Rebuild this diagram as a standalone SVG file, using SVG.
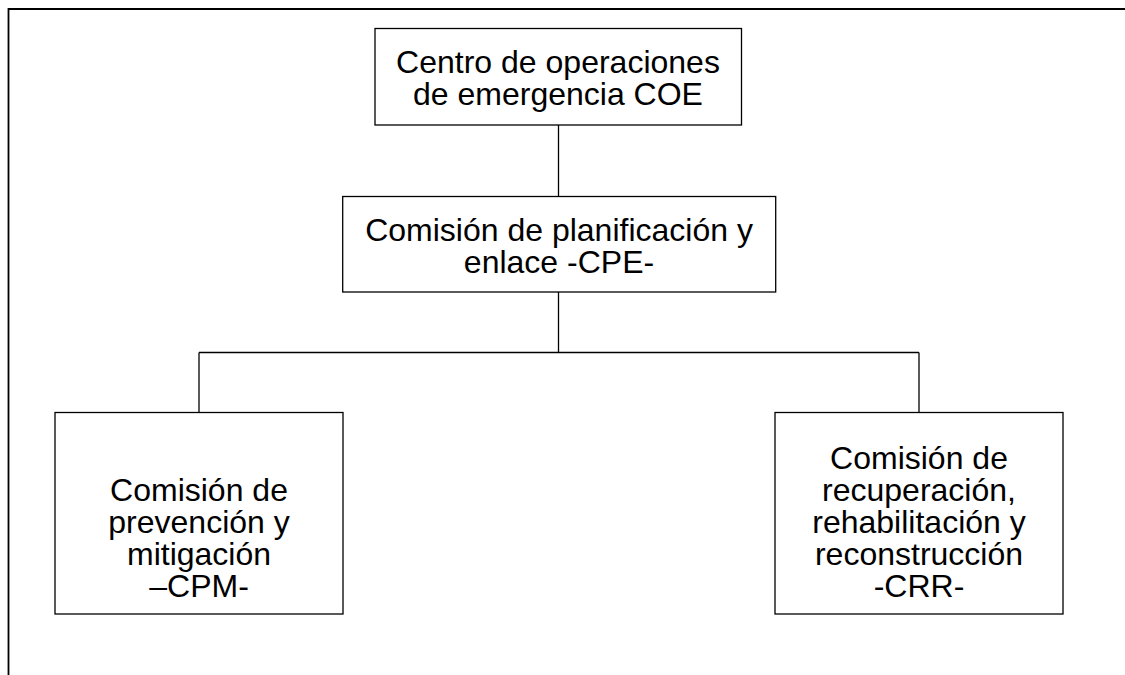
<svg xmlns="http://www.w3.org/2000/svg" width="1125" height="675" viewBox="0 0 1125 675">
<style>
  .box { fill: #ffffff; stroke: #000000; stroke-width: 1.3; }
  .conn { fill: none; stroke: #000000; stroke-width: 1.3; }
  .frame { fill: none; stroke: #000000; stroke-width: 1.8; }
  .lbl { font-family: "Liberation Sans", Arial, sans-serif; font-size: 32px; fill: #000000; text-anchor: middle; }
</style>
<rect x="0" y="0" width="1125" height="675" fill="#ffffff"/>
<path class="frame" d="M8.5,675 L8.5,9 L1125,9"/>
<g id="connectors">
  <line class="conn" x1="558.5" y1="125" x2="558.5" y2="196.5"/>
  <line class="conn" x1="558.5" y1="292" x2="558.5" y2="352.5"/>
  <line class="conn" x1="199" y1="352.5" x2="919" y2="352.5"/>
  <line class="conn" x1="199" y1="352.5" x2="199" y2="412.5"/>
  <line class="conn" x1="919" y1="352.5" x2="919" y2="412.5"/>
</g>
<g id="coe">
  <rect class="box" x="375" y="28.5" width="366.5" height="96.5"/>
  <text class="lbl" x="558" y="73">Centro de operaciones</text>
  <text class="lbl" x="558" y="105">de emergencia COE</text>
</g>
<g id="cpe">
  <rect class="box" x="342.7" y="196.5" width="433" height="95.5"/>
  <text class="lbl" x="559" y="241">Comisión de planificación y</text>
  <text class="lbl" x="559" y="273">enlace -CPE-</text>
</g>
<g id="cpm">
  <rect class="box" x="55" y="412.5" width="288" height="201.5"/>
  <text class="lbl" x="199" y="501">Comisión de</text>
  <text class="lbl" x="199" y="533">prevención y</text>
  <text class="lbl" x="199" y="565">mitigación</text>
  <text class="lbl" x="199" y="597">–CPM-</text>
</g>
<g id="crr">
  <rect class="box" x="775" y="412.5" width="288" height="201.5"/>
  <text class="lbl" x="919" y="469">Comisión de</text>
  <text class="lbl" x="919" y="501">recuperación,</text>
  <text class="lbl" x="919" y="533">rehabilitación y</text>
  <text class="lbl" x="919" y="565">reconstrucción</text>
  <text class="lbl" x="919" y="597">-CRR-</text>
</g>
</svg>
